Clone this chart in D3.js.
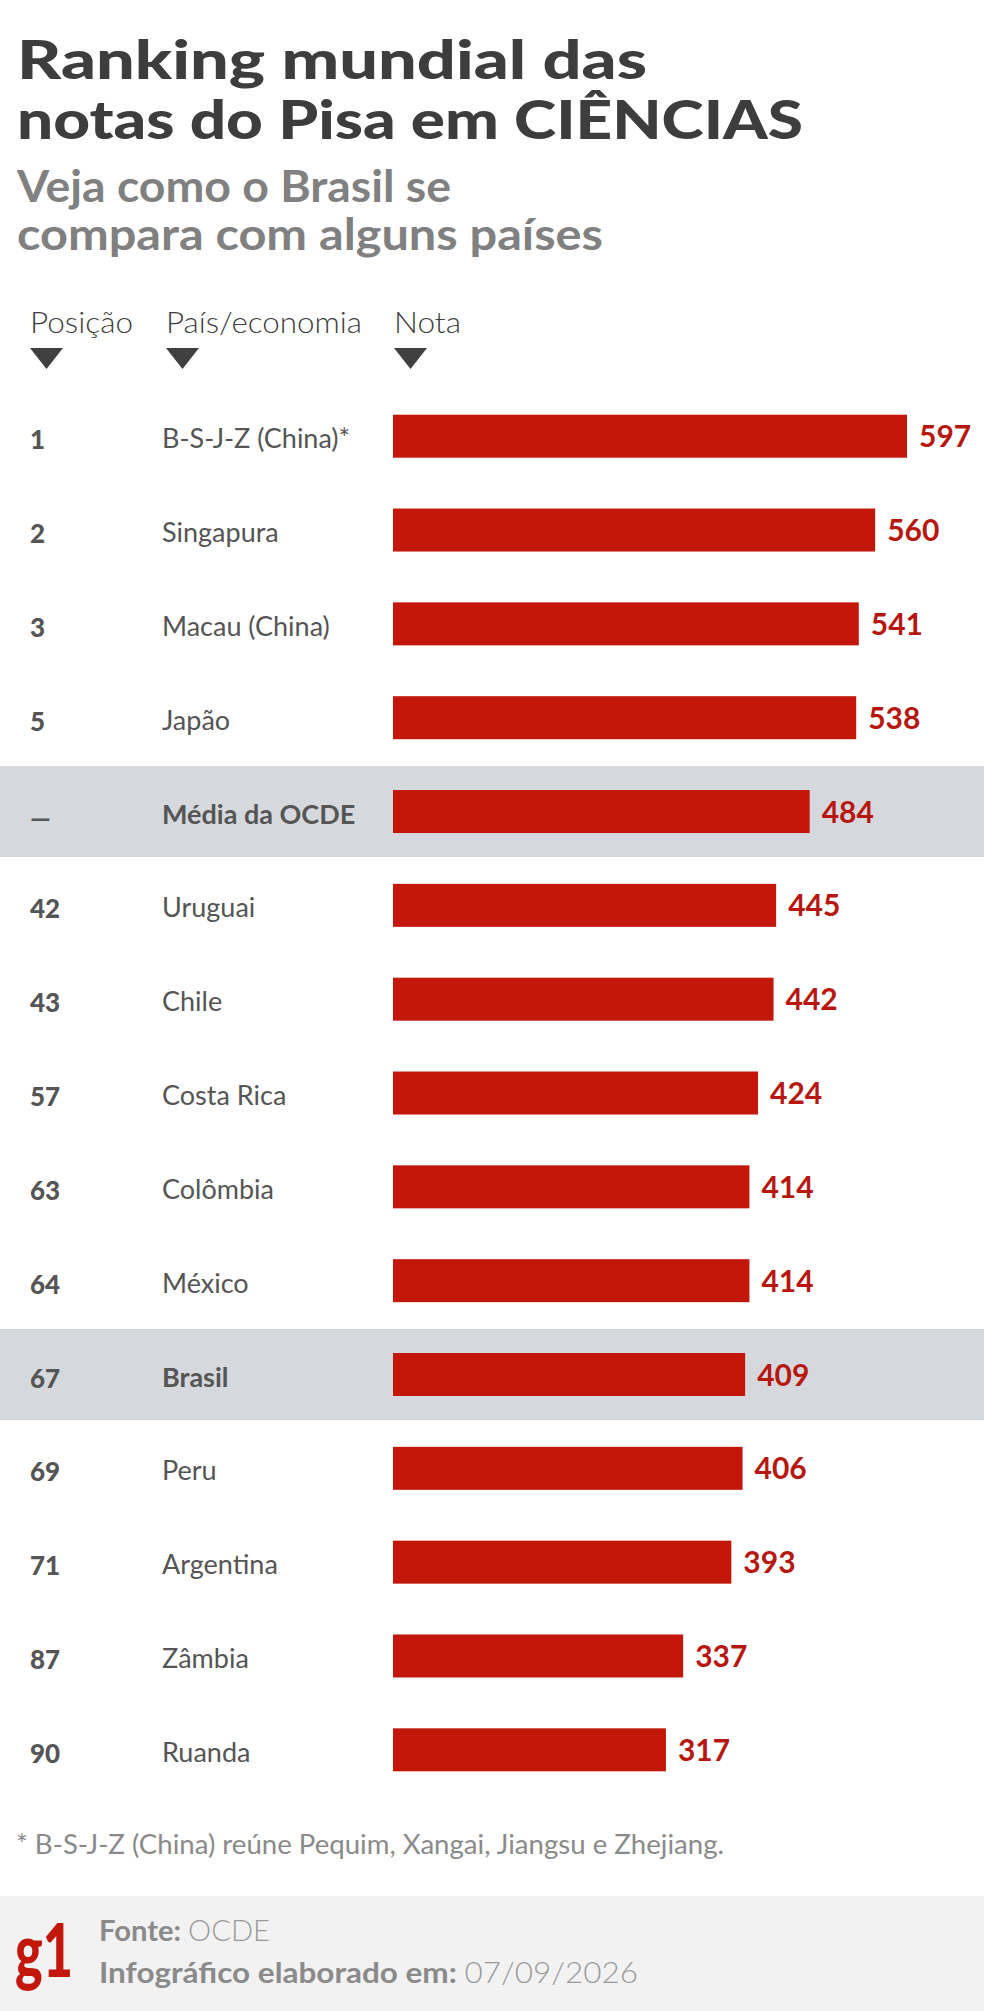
<!DOCTYPE html>
<html>
<head>
<meta charset="utf-8">
<script src="https://cdn.jsdelivr.net/npm/d3@7"></script>
<style>
  html, body { margin: 0; padding: 0; background: #fff; }
  svg { display: block; font-family: Lato, "Open Sans", sans-serif; }
</style>
</head>
<body>
<div id="chart"></div>
<script>
// dados
var positions = ["1", "2", "3", "5", "—", "42", "43", "57", "63", "64", "67", "69", "71", "87", "90"];
var countries = ["B-S-J-Z (China)*", "Singapura", "Macau (China)", "Japão", "Média da OCDE",
    "Uruguai", "Chile", "Costa Rica", "Colômbia", "México", "Brasil", "Peru",
    "Argentina", "Zâmbia", "Ruanda"];
var scores = [597, 560, 541, 538, 484, 445, 442, 424, 414, 414, 409, 406, 393, 337, 317];
var highlighted = ["Média da OCDE", "Brasil"];
var headers = ["Posição", "País/economia", "Nota"];

var chart = {
    width: 984,
    height: 2011,
    view: null,
    initialize: function() {
        var self = this;
        self.view = d3.select("#chart").append("svg")
            .attr("width", self.width)
            .attr("height", self.height);
        self.drawTitle();
        self.drawRows();
        self.drawFooter();
    },

    drawTitle: function() {
        var self = this;
        var g = self.view.append("g");

        // título e subtítulo em um só <text> cada, com uma linha por tspan
        var title = g.append("text")
            .attr("fill", "#3d3d3d")
            .attr("font-size", 53)
            .attr("font-weight", 900);
        title.selectAll("tspan")
            .data([["Ranking mundial das", 630], ["notas do Pisa em CIÊNCIAS", 786]])
            .enter()
            .append("tspan")
            .attr("x", 17)
            .attr("y", function(d, i) { return 79 + i * 60; })
            .attr("textLength", function(d) { return d[1]; })
            .attr("lengthAdjust", "spacingAndGlyphs")
            .text(function(d) { return d[0]; });

        var sub = g.append("text")
            .attr("fill", "#808080")
            .attr("font-size", 43)
            .attr("font-weight", 700);
        sub.selectAll("tspan")
            .data([["Veja como o Brasil se", 434], ["compara com alguns países", 586]])
            .enter()
            .append("tspan")
            .attr("x", 17)
            .attr("y", function(d, i) { return 202 + i * 48; })
            .attr("textLength", function(d) { return d[1]; })
            .attr("lengthAdjust", "spacingAndGlyphs")
            .text(function(d) { return d[0]; });

        var hx = [30, 166, 394];
        var hw = [103, 196, 67];
        g.selectAll("text.head")
            .data(headers)
            .enter()
            .append("text")
            .attr("class", "head")
            .attr("x", function(d, i) { return hx[i]; })
            .attr("y", 333)
            .attr("fill", "#404040")
            .attr("font-size", 29)
            .attr("font-weight", 300)
            .attr("textLength", function(d, i) { return hw[i]; })
            .attr("lengthAdjust", "spacingAndGlyphs")
            .text(function(d) { return d; });

        g.selectAll("path.tri")
            .data(hx)
            .enter()
            .append("path")
            .attr("class", "tri")
            .attr("d", function(d) {
                return "M" + d + ",348L" + (d + 33) + ",348L" + (d + 16.5) + ",369Z";
            })
            .attr("fill", "#404040");
    },

    drawRows: function() {
        var self = this;
        var step = 93.83;
        var y = d3.scaleBand()
            .domain(d3.range(countries.length))
            .range([436.2 - step / 2, 436.2 - step / 2 + step * countries.length])
            .padding(0);
        var x = d3.scaleLinear()
            .domain([0, 597])
            .range([393, 907]);
        var barH = 43;

        var rows = self.view.append("g")
            .selectAll("g")
            .data(countries)
            .enter()
            .append("g")
            .attr("transform", function(d, i) {
                return "translate(0," + (y(i) + y.bandwidth() / 2) + ")";
            });

        rows.filter(function(d) { return highlighted.indexOf(d) >= 0; })
            .append("rect")
            .attr("x", 0)
            .attr("y", -45.5)
            .attr("width", self.width)
            .attr("height", 91)
            .attr("fill", "#d5d9dd");

        rows.append("rect")
            .attr("x", x(0))
            .attr("y", -barH / 2)
            .attr("width", function(d, i) { return x(scores[i]) - x(0); })
            .attr("height", barH)
            .attr("fill", "#c4170c");

        rows.append("text")
            .attr("x", 30)
            .attr("y", function(d, i) { return positions[i] === "—" ? 16 : 13; })
            .attr("fill", "#555")
            .attr("font-size", 26)
            .attr("font-weight", 900)
            .text(function(d, i) { return positions[i]; });

        rows.append("text")
            .attr("x", 162)
            .attr("y", 12)
            .attr("fill", "#555")
            .attr("font-size", 27)
            .attr("font-weight", function(d) {
                return highlighted.indexOf(d) >= 0 ? 700 : 400;
            })
            .text(function(d) { return d; });

        rows.append("text")
            .attr("x", function(d, i) { return x(scores[i]) + 12; })
            .attr("y", 11)
            .attr("fill", "#b8170f")
            .attr("font-size", 30)
            .attr("font-weight", 700)
            .text(function(d, i) { return scores[i]; });
    },

    drawFooter: function() {
        var self = this;
        var g = self.view.append("g");
        g.append("text")
            .attr("x", 16)
            .attr("y", 1854)
            .attr("fill", "#8a8a8a")
            .attr("font-size", 26)
            .attr("font-weight", 400)
            .attr("textLength", 708)
            .attr("lengthAdjust", "spacingAndGlyphs")
            .text("* B-S-J-Z (China) reúne Pequim, Xangai, Jiangsu e Zhejiang.");

        g.append("rect")
            .attr("x", 0)
            .attr("y", 1896)
            .attr("width", self.width)
            .attr("height", self.height - 1896)
            .attr("fill", "#f2f2f2");

        g.append("text")
            .attr("x", 15)
            .attr("y", 1977)
            .attr("fill", "#c4170c")
            .attr("font-size", 74)
            .attr("font-weight", 900)
            .attr("textLength", 58)
            .attr("lengthAdjust", "spacingAndGlyphs")
            .text("g1");

        var lines = [["Fonte: ", "OCDE", 171], ["Infográfico elaborado em: ", "07/09/2026", 539]];
        var t = g.selectAll("text.src")
            .data(lines)
            .enter()
            .append("text")
            .attr("class", "src")
            .attr("x", 99)
            .attr("y", function(d, i) { return 1941 + i * 42; })
            .attr("font-size", 29)
            .attr("textLength", function(d) { return d[2]; })
            .attr("lengthAdjust", "spacingAndGlyphs");
        t.append("tspan")
            .attr("fill", "#8a8a8a")
            .attr("font-weight", 700)
            .text(function(d) { return d[0]; });
        t.append("tspan")
            .attr("fill", "#9a9a9a")
            .attr("font-weight", 300)
            .text(function(d) { return d[1]; });
    }
};

chart.initialize();
</script>
</body>
</html>
